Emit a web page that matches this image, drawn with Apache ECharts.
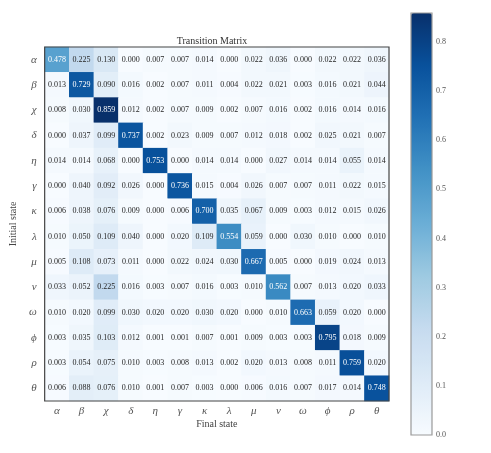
<!DOCTYPE html>
<html>
<head>
<meta charset="utf-8">
<script src="https://cdn.jsdelivr.net/npm/echarts@6/dist/echarts.min.js"></script>
<style>
  html, body { margin: 0; padding: 0; background: #fff; }
  #main { width: 491px; height: 453px; }
</style>
</head>
<body>
<div id="main"></div>
<script>
// state labels (rows = initial state, columns = final state)
var states = ['α', 'β', 'χ', 'δ', 'η', 'γ', 'κ', 'λ', 'μ', 'ν', 'ω', 'ϕ', 'ρ', 'θ'];

// transition probabilities, one row per initial state
var rowAlpha = [0.478, 0.225, 0.130, 0.000, 0.007, 0.007, 0.014, 0.000, 0.022, 0.036, 0.000, 0.022, 0.022, 0.036];
var rowBeta  = [0.013, 0.729, 0.090, 0.016, 0.002, 0.007, 0.011, 0.004, 0.022, 0.021, 0.003, 0.016, 0.021, 0.044];
var rowChi   = [0.008, 0.030, 0.859, 0.012, 0.002, 0.007, 0.009, 0.002, 0.007, 0.016, 0.002, 0.016, 0.014, 0.016];
var rowDelta = [0.000, 0.037, 0.099, 0.737, 0.002, 0.023, 0.009, 0.007, 0.012, 0.018, 0.002, 0.025, 0.021, 0.007];
var rowEta   = [0.014, 0.014, 0.068, 0.000, 0.753, 0.000, 0.014, 0.014, 0.000, 0.027, 0.014, 0.014, 0.055, 0.014];
var rowGamma = [0.000, 0.040, 0.092, 0.026, 0.000, 0.736, 0.015, 0.004, 0.026, 0.007, 0.007, 0.011, 0.022, 0.015];
var rowKappa = [0.006, 0.038, 0.076, 0.009, 0.000, 0.006, 0.700, 0.035, 0.067, 0.009, 0.003, 0.012, 0.015, 0.026];
var rowLambda= [0.010, 0.050, 0.109, 0.040, 0.000, 0.020, 0.109, 0.554, 0.059, 0.000, 0.030, 0.010, 0.000, 0.010];
var rowMu    = [0.005, 0.108, 0.073, 0.011, 0.000, 0.022, 0.024, 0.030, 0.667, 0.005, 0.000, 0.019, 0.024, 0.013];
var rowNu    = [0.033, 0.052, 0.225, 0.016, 0.003, 0.007, 0.016, 0.003, 0.010, 0.562, 0.007, 0.013, 0.020, 0.033];
var rowOmega = [0.010, 0.020, 0.099, 0.030, 0.020, 0.020, 0.030, 0.020, 0.000, 0.010, 0.663, 0.059, 0.020, 0.000];
var rowPhi   = [0.003, 0.035, 0.103, 0.012, 0.001, 0.001, 0.007, 0.001, 0.009, 0.003, 0.003, 0.795, 0.018, 0.009];
var rowRho   = [0.003, 0.054, 0.075, 0.010, 0.003, 0.008, 0.013, 0.002, 0.020, 0.013, 0.008, 0.011, 0.759, 0.020];
var rowTheta = [0.006, 0.088, 0.076, 0.010, 0.001, 0.007, 0.003, 0.000, 0.006, 0.016, 0.007, 0.017, 0.014, 0.748];

var matrix = [rowAlpha, rowBeta, rowChi, rowDelta, rowEta, rowGamma, rowKappa,
              rowLambda, rowMu, rowNu, rowOmega, rowPhi, rowRho, rowTheta];

// colour bar ticks
var barTicks = [0.0, 0.1, 0.2, 0.3, 0.4, 0.5, 0.6, 0.7, 0.8];
var vmax = 0.859;

// matplotlib "Blues"
var blues = ['#f7fbff', '#deebf7', '#c6dbef', '#9ecae1', '#6baed6', '#4292c6', '#2171b5', '#08519c', '#08306b'];

var serif = '"Liberation Serif", "DejaVu Serif", serif';

var cells = [];
for (var i = 0; i < matrix.length; i++) {
  for (var j = 0; j < matrix[i].length; j++) {
    var v = matrix[i][j];
    cells.push({
      value: [j, i, v],
      label: { color: v > 0.4 ? '#ffffff' : '#262626' }
    });
  }
}

var myChart = echarts.init(document.getElementById('main'));

var option = {
  backgroundColor: '#fff',
  animation: false,
  title: {
    text: 'Transition Matrix',
    left: 212,
    top: 36,
    padding: 0,
    textAlign: 'center',
    textStyle: { fontFamily: serif, fontSize: 10, fontWeight: 'normal', color: '#333' }
  },
  grid: [
    {
      left: 35, top: 47, width: 354, height: 354,
      show: true, borderColor: '#444', borderWidth: 1.2, backgroundColor: 'transparent', z: 10
    },
    {
      left: 411, top: 13, width: 21, height: 422,
      show: true, borderColor: '#999', borderWidth: 1.2, backgroundColor: 'transparent', z: 10
    }
  ],
  xAxis: [
    {
      type: 'category', gridIndex: 0, data: states,
      name: 'Final state', nameLocation: 'middle', nameGap: 18, nameMoveOverlap: false,
      nameTextStyle: { fontFamily: serif, fontSize: 10, color: '#444' },
      axisLine: { show: false }, axisTick: { show: false }, splitLine: { show: false },
      axisLabel: { fontFamily: serif, fontStyle: 'italic', fontSize: 11, color: '#555', margin: 5 }
    },
    {
      type: 'value', gridIndex: 1, show: false
    }
  ],
  yAxis: [
    {
      type: 'category', gridIndex: 0, data: states, inverse: true,
      name: 'Initial state', nameLocation: 'middle', nameGap: 21,
      nameTextStyle: { fontFamily: serif, fontSize: 10, color: '#444' },
      axisLine: { show: false }, axisTick: { show: false }, splitLine: { show: false },
      axisLabel: { fontFamily: serif, fontStyle: 'italic', fontSize: 11, color: '#555', margin: 8 }
    },
    {
      type: 'value', gridIndex: 1, position: 'right', min: 0, max: vmax, interval: 0.1,
      axisLine: { show: false }, axisTick: { show: false }, splitLine: { show: false },
      axisLabel: {
        fontFamily: serif, fontSize: 8, color: '#555', margin: 4,
        formatter: function (v) { return barTicks.indexOf(Math.round(v * 10) / 10) >= 0 && Math.abs(v * 10 - Math.round(v * 10)) < 1e-6 ? v.toFixed(1) : ''; }
      }
    }
  ],
  visualMap: {
    type: 'continuous',
    min: 0, max: vmax,
    seriesIndex: 0,
    calculable: false,
    left: 411, top: 13,
    padding: 0,
    itemWidth: 21, itemHeight: 422,
    text: null,
    showLabel: false,
    inRange: { color: blues }
  },
  series: [
    {
      type: 'heatmap',
      xAxisIndex: 0, yAxisIndex: 0,
      data: cells,
      label: {
        show: true, fontFamily: serif, fontSize: 8,
        formatter: function (p) { return p.value[2].toFixed(3); }
      },
      itemStyle: { borderWidth: 0 },
      emphasis: { disabled: true }
    }
  ]
};

myChart.setOption(option);
</script>
</body>
</html>
